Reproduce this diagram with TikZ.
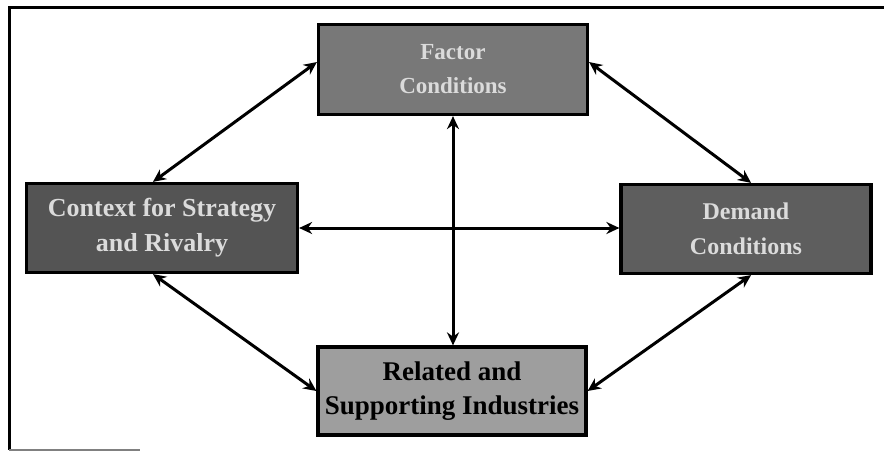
\documentclass[tikz,border=0pt]{standalone}
\usepackage{fontspec}
\setmainfont{Liberation Serif}
\usetikzlibrary{arrows.meta,calc}
\definecolor{facfill}{gray}{0.47}
\definecolor{ctxfill}{gray}{0.33}
\definecolor{demfill}{gray}{0.37}
\definecolor{relfill}{gray}{0.62}
\definecolor{lighttext}{gray}{0.86}
\begin{document}
\begin{tikzpicture}[x=1pt,y=-1pt,
  box/.style={draw=black,line width=3.2pt,rectangle,inner sep=0pt,align=center},
  link/.style={line width=3pt,{Stealth[length=13pt,width=12pt]}-{Stealth[length=13pt,width=12pt]}}]
\useasboundingbox (0,0) rectangle (884,452);
\draw[line width=3pt] (884,8) -- (9,8) -- (9,450);
\draw[line width=1.5pt,gray] (9,450) -- (140,450);

\node[box,fill=facfill,text=lighttext,minimum width=269pt,minimum height=90pt,
  font=\bfseries\fontsize{23}{34}\selectfont] (fac) at (453,69.5) {Factor\\Conditions};
\node[box,fill=ctxfill,text=lighttext,minimum width=271pt,minimum height=89pt,
  font=\bfseries\fontsize{26}{35}\selectfont] (ctx) at (162,228) {Context for Strategy\\and Rivalry};
\node[box,fill=demfill,text=lighttext,minimum width=250pt,minimum height=89pt,
  font=\bfseries\fontsize{24}{35}\selectfont] (dem) at (746,229) {Demand\\Conditions};
\node[box,fill=relfill,text=black,minimum width=268pt,minimum height=88pt,
  font=\bfseries\fontsize{27}{34}\selectfont] (rel) at (452,391) {Related and\\Supporting Industries};

\draw[link] ($(fac.north west)!0.42!(fac.south west)$) -- ($(ctx.north west)!0.467!(ctx.north east)$);
\draw[link] ($(fac.north east)!0.42!(fac.south east)$) -- ($(dem.north west)!0.52!(dem.north east)$);
\draw[link] ($(ctx.south west)!0.467!(ctx.south east)$) -- (rel.west);
\draw[link] ($(dem.south west)!0.52!(dem.south east)$) -- (rel.east);
\draw[link] (ctx.east) -- (ctx.east -| dem.west);
\draw[link] (fac.south) -- (fac.south |- rel.north);
\end{tikzpicture}
\end{document}
